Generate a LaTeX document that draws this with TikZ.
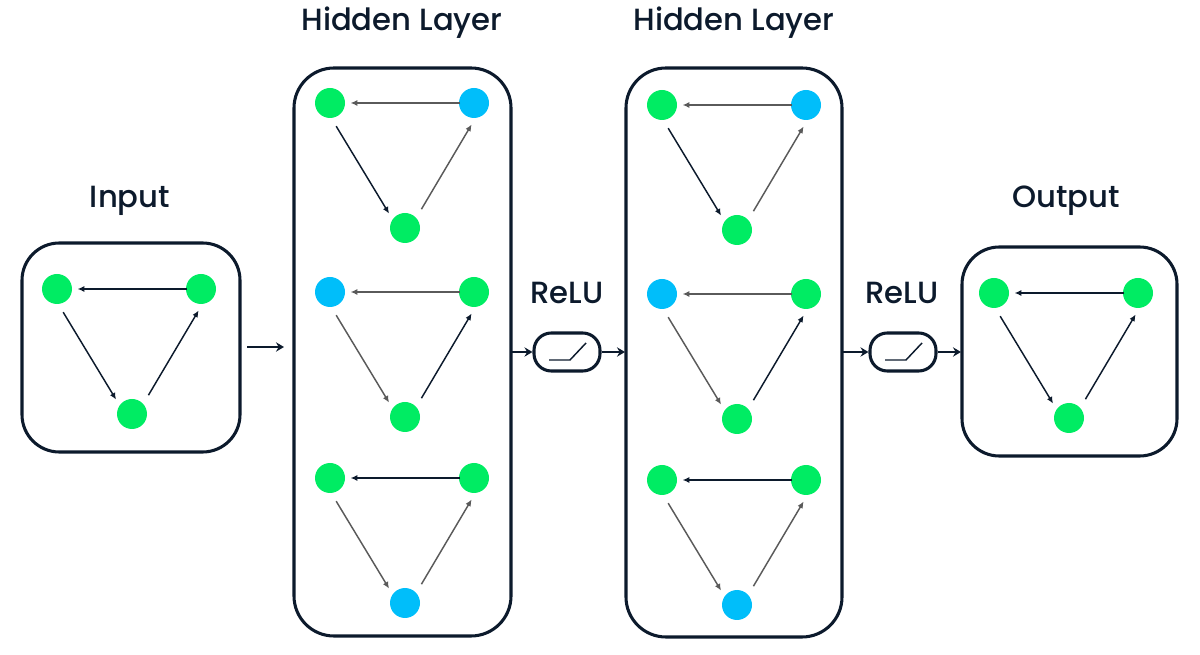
\documentclass[tikz,border=0pt]{standalone}
\usepackage{fontspec}
\setmainfont{Poppins}
\newfontfamily\lblfont{Poppins Medium}
\usetikzlibrary{arrows.meta}
\definecolor{navy}{HTML}{0C1A2C}
\definecolor{grn}{HTML}{00EC63}
\definecolor{blu}{HTML}{00BEFA}
\definecolor{gry}{HTML}{5A5A5A}
\tikzset{
  dot/.style={circle,fill=#1,minimum size=22.5pt,inner sep=0pt,draw=none},
  frame/.style={draw=navy,line width=2.3pt,rounded corners=28pt},
  lbl/.style={font=\lblfont\fontsize{23pt}{26pt}\selectfont,text=navy},
  dk/.style={draw=navy,line width=1.1pt,-{Latex[length=5pt,width=4.5pt]}},
  gy/.style={draw=gry,line width=1.1pt,-{Latex[length=5pt,width=4.5pt]}},
  flow/.style={draw=navy,line width=1.8pt,-{Stealth[length=6pt,width=7pt,inset=2pt]}},
  pill/.style={draw=navy,line width=2.3pt,rounded corners=13pt,minimum width=49.5pt,minimum height=28.5pt,inner sep=0pt}
}
\newcommand\triad[9]{%
  \node[dot=#4] (#1a) at (#2,#3) {};
  \node[dot=#5] (#1b) at (#2+144,#3) {};
  \node[dot=#6] (#1c) at (#2+75,#3+125) {};
  \draw[#7,shorten <=-1pt,shorten >=4pt] (#1b) -- (#1a);
  \draw[#8,shorten <=7pt,shorten >=5pt] (#1a.-85) -- (#1c.145);
  \draw[#9,shorten <=7.5pt,shorten >=5.5pt] (#1c.42) -- (#1b.-85);
}
\begin{document}
\begin{tikzpicture}[x=0.75pt,y=-0.75pt]
\useasboundingbox (0,0) rectangle (1200,655);
% frames
\draw[frame] (22,243) rectangle (240,452);
\draw[frame,rounded corners=30pt] (294,68) rectangle (511,636);
\draw[frame,rounded corners=30pt] (626,68) rectangle (842,637);
\draw[frame] (962,247) rectangle (1177,456);
% labels
\node[lbl] (tIn) at (130,201) {Input};
\node[lbl] (tH1) at (402,23) {Hidden Layer};
\node[lbl] (tH2) at (734,23) {Hidden Layer};
\node[lbl] (tOut) at (1066,201) {Output};
\node[lbl] (tR1) at (567,293) {ReLU};
\node[lbl] (tR2) at (902,293) {ReLU};
% triangles
\triad{i}{57}{289}{grn}{grn}{grn}{dk}{dk}{dk}
\triad{p}{330}{103}{grn}{blu}{grn}{gy}{dk}{gy}
\triad{q}{330}{292}{blu}{grn}{grn}{gy}{gy}{dk}
\triad{r}{330}{478}{grn}{grn}{blu}{dk}{gy}{gy}
\triad{s}{662}{105}{grn}{blu}{grn}{gy}{dk}{gy}
\triad{t}{662}{294}{blu}{grn}{grn}{gy}{gy}{dk}
\triad{u}{662}{480}{grn}{grn}{blu}{dk}{gy}{gy}
\triad{o}{994}{293}{grn}{grn}{grn}{dk}{dk}{dk}
% relu pills
\node[pill] (r1) at (567,352) {};
\node[pill] (r2) at (903,352) {};
\draw[navy,line width=1.1pt] (549,360) -- (570,360) -- (586,343);
\draw[navy,line width=1.1pt] (885,360) -- (906,360) -- (922,343);
% flow arrows
\coordinate (a0) at (247,347);
\coordinate (a1) at (284,347);
\draw[flow] (a0) -- (a1);
\coordinate (b0) at (512,352);
\draw[flow] (b0) -- (r1.west);
\coordinate (b1) at (625,352);
\draw[flow] (r1.east) -- (b1);
\coordinate (c0) at (843,352);
\draw[flow] (c0) -- (r2.west);
\coordinate (c1) at (961,352);
\draw[flow] (r2.east) -- (c1);
\end{tikzpicture}
\end{document}
